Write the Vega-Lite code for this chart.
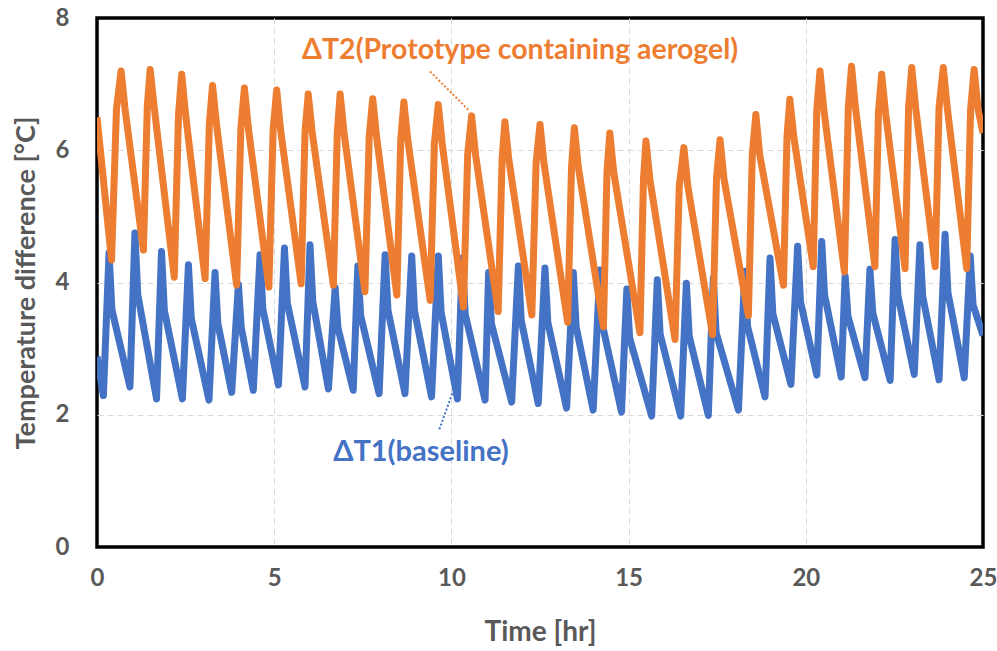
{
  "$schema": "https://vega.github.io/schema/vega-lite/v6.json",
  "width": 886,
  "height": 529,
  "autosize": "none",
  "padding": {"left": 97, "top": 18, "right": 14, "bottom": 104},
  "background": "white",
  "config": {
    "view": {"stroke": "black", "strokeWidth": 3.5},
    "font": "Lato",
    "axis": {
      "labelFont": "Lato", "titleFont": "Lato",
      "labelFontSize": 24, "labelFontWeight": "bold", "labelColor": "#595959",
      "titleFontSize": 28, "titleFontWeight": "bold", "titleColor": "#595959",
      "domain": false, "ticks": false,
      "grid": true, "gridColor": "#d9d9d9", "gridDash": [6, 4], "gridWidth": 1
    }
  },
  "datasets": {
    "baseline": [
      {"t":0,"v":2.88},{"t":0.18,"v":2.29},{"t":0.34,"v":4.45},{"t":0.42,"v":3.59},
      {"t":0.93,"v":2.42},{"t":1.07,"v":4.75},{"t":1.15,"v":3.82},
      {"t":1.68,"v":2.24},{"t":1.82,"v":4.47},{"t":1.90,"v":3.58},
      {"t":2.41,"v":2.24},{"t":2.58,"v":4.27},{"t":2.66,"v":3.46},
      {"t":3.16,"v":2.22},{"t":3.33,"v":4.15},{"t":3.41,"v":3.38},
      {"t":3.80,"v":2.34},{"t":3.99,"v":3.97},{"t":4.07,"v":3.32},
      {"t":4.41,"v":2.37},{"t":4.60,"v":4.42},{"t":4.68,"v":3.60},
      {"t":5.12,"v":2.45},{"t":5.29,"v":4.52},{"t":5.37,"v":3.69},
      {"t":5.87,"v":2.42},{"t":6.01,"v":4.57},{"t":6.09,"v":3.71},
      {"t":6.53,"v":2.39},{"t":6.72,"v":3.92},{"t":6.80,"v":3.31},
      {"t":7.23,"v":2.37},{"t":7.36,"v":4.25},{"t":7.44,"v":3.50},
      {"t":7.96,"v":2.32},{"t":8.13,"v":4.42},{"t":8.21,"v":3.58},
      {"t":8.69,"v":2.32},{"t":8.88,"v":4.40},{"t":8.96,"v":3.57},
      {"t":9.44,"v":2.27},{"t":9.63,"v":4.40},{"t":9.71,"v":3.55},
      {"t":10.17,"v":2.24},{"t":10.31,"v":4.37},{"t":10.39,"v":3.52},
      {"t":10.95,"v":2.22},{"t":11.05,"v":4.15},{"t":11.13,"v":3.38},
      {"t":11.70,"v":2.19},{"t":11.89,"v":4.25},{"t":11.97,"v":3.43},
      {"t":12.45,"v":2.17},{"t":12.64,"v":4.22},{"t":12.72,"v":3.40},
      {"t":13.25,"v":2.10},{"t":13.44,"v":4.15},{"t":13.52,"v":3.33},
      {"t":14.00,"v":2.07},{"t":14.19,"v":4.19},{"t":14.27,"v":3.34},
      {"t":14.80,"v":2.04},{"t":14.95,"v":3.90},{"t":15.03,"v":3.16},
      {"t":15.65,"v":1.98},{"t":15.81,"v":4.04},{"t":15.89,"v":3.22},
      {"t":16.47,"v":1.98},{"t":16.63,"v":3.99},{"t":16.71,"v":3.19},
      {"t":17.25,"v":1.99},{"t":17.39,"v":4.07},{"t":17.47,"v":3.24},
      {"t":18.10,"v":2.07},{"t":18.28,"v":4.17},{"t":18.36,"v":3.33},
      {"t":18.85,"v":2.27},{"t":18.99,"v":4.37},{"t":19.07,"v":3.53},
      {"t":19.58,"v":2.46},{"t":19.77,"v":4.55},{"t":19.85,"v":3.71},
      {"t":20.31,"v":2.60},{"t":20.45,"v":4.62},{"t":20.53,"v":3.81},
      {"t":21.00,"v":2.57},{"t":21.11,"v":4.10},{"t":21.19,"v":3.49},
      {"t":21.67,"v":2.56},{"t":21.81,"v":4.20},{"t":21.89,"v":3.54},
      {"t":22.38,"v":2.52},{"t":22.52,"v":4.65},{"t":22.60,"v":3.80},
      {"t":23.06,"v":2.61},{"t":23.22,"v":4.57},{"t":23.30,"v":3.79},
      {"t":23.76,"v":2.53},{"t":23.93,"v":4.73},{"t":24.01,"v":3.85},
      {"t":24.47,"v":2.56},{"t":24.64,"v":4.40},{"t":24.72,"v":3.66},
      {"t":25.0,"v":3.20}
    ],
    "prototype": [
      {"t":0,"v":6.50},
      {"t":0.41,"v":4.34},{"t":0.55,"v":6.63},{"t":0.68,"v":7.20},{"t":0.79,"v":6.63},
      {"t":1.31,"v":4.49},{"t":1.42,"v":6.67},{"t":1.50,"v":7.22},{"t":1.61,"v":6.67},
      {"t":2.18,"v":4.08},{"t":2.30,"v":6.54},{"t":2.39,"v":7.15},{"t":2.50,"v":6.54},
      {"t":3.05,"v":4.06},{"t":3.17,"v":6.40},{"t":3.26,"v":6.98},{"t":3.37,"v":6.40},
      {"t":3.94,"v":3.96},{"t":4.06,"v":6.34},{"t":4.16,"v":6.94},{"t":4.27,"v":6.34},
      {"t":4.85,"v":3.93},{"t":4.97,"v":6.31},{"t":5.07,"v":6.91},{"t":5.18,"v":6.31},
      {"t":5.76,"v":3.98},{"t":5.87,"v":6.28},{"t":5.96,"v":6.85},{"t":6.07,"v":6.28},
      {"t":6.67,"v":3.96},{"t":6.78,"v":6.27},{"t":6.86,"v":6.85},{"t":6.97,"v":6.27},
      {"t":7.56,"v":3.86},{"t":7.68,"v":6.20},{"t":7.78,"v":6.78},{"t":7.89,"v":6.20},
      {"t":8.46,"v":3.81},{"t":8.57,"v":6.15},{"t":8.66,"v":6.73},{"t":8.77,"v":6.15},
      {"t":9.40,"v":3.73},{"t":9.52,"v":6.10},{"t":9.63,"v":6.69},{"t":9.74,"v":6.10},
      {"t":10.34,"v":3.63},{"t":10.46,"v":5.94},{"t":10.57,"v":6.52},{"t":10.68,"v":5.94},
      {"t":11.32,"v":3.56},{"t":11.43,"v":5.86},{"t":11.51,"v":6.43},{"t":11.62,"v":5.86},
      {"t":12.27,"v":3.51},{"t":12.39,"v":5.81},{"t":12.50,"v":6.39},{"t":12.61,"v":5.81},
      {"t":13.28,"v":3.40},{"t":13.39,"v":5.75},{"t":13.47,"v":6.34},{"t":13.58,"v":5.75},
      {"t":14.29,"v":3.33},{"t":14.39,"v":5.67},{"t":14.47,"v":6.26},{"t":14.58,"v":5.67},
      {"t":15.32,"v":3.24},{"t":15.42,"v":5.56},{"t":15.49,"v":6.14},{"t":15.60,"v":5.56},
      {"t":16.31,"v":3.14},{"t":16.43,"v":5.46},{"t":16.56,"v":6.04},{"t":16.67,"v":5.46},
      {"t":17.37,"v":3.21},{"t":17.48,"v":5.57},{"t":17.58,"v":6.16},{"t":17.69,"v":5.57},
      {"t":18.38,"v":3.50},{"t":18.49,"v":5.93},{"t":18.59,"v":6.54},{"t":18.70,"v":5.93},
      {"t":19.37,"v":3.96},{"t":19.47,"v":6.21},{"t":19.55,"v":6.77},{"t":19.66,"v":6.21},
      {"t":20.21,"v":4.24},{"t":20.31,"v":6.61},{"t":20.40,"v":7.20},{"t":20.51,"v":6.61},
      {"t":21.09,"v":4.16},{"t":21.20,"v":6.65},{"t":21.29,"v":7.27},{"t":21.40,"v":6.65},
      {"t":21.95,"v":4.24},{"t":22.05,"v":6.57},{"t":22.14,"v":7.15},{"t":22.25,"v":6.57},
      {"t":22.80,"v":4.21},{"t":22.90,"v":6.64},{"t":22.99,"v":7.25},{"t":23.10,"v":6.64},
      {"t":23.65,"v":4.24},{"t":23.76,"v":6.65},{"t":23.88,"v":7.25},{"t":23.99,"v":6.65},
      {"t":24.54,"v":4.21},{"t":24.65,"v":6.62},{"t":24.75,"v":7.22},{"t":24.86,"v":6.62},
      {"t":25.0,"v":6.26}
    ],
    "label2": [{"t": 11.94, "v": 7.52, "label": "ΔT2(Prototype containing aerogel)"}],
    "label1": [{"t": 9.14, "v": 1.44, "label": "ΔT1(baseline)"}],
    "leader2": [{"t": 9.40, "v": 7.19, "t2": 10.48, "v2": 6.61}],
    "leader1": [{"t": 9.66, "v": 1.78, "t2": 10.03, "v2": 2.33}]
  },
  "encoding": {
    "x": {"field": "t", "type": "quantitative",
      "scale": {"domain": [0, 25], "nice": false, "zero": false},
      "axis": {"values": [0, 5, 10, 15, 20, 25], "title": "Time [hr]", "labelFlush": false, "labelPadding": 19, "titlePadding": 28,
        "gridOpacity": {"condition": {"test": "datum.value === 0 || datum.value === 25", "value": 0}, "value": 1}}},
    "y": {"field": "v", "type": "quantitative",
      "scale": {"domain": [0, 8], "nice": false},
      "axis": {"values": [0, 2, 4, 6, 8], "title": "Temperature difference [°C]", "titleFontSize": 27, "labelPadding": 28, "titlePadding": 15,
        "gridOpacity": {"condition": {"test": "datum.value === 0 || datum.value === 8", "value": 0}, "value": 1}}}
  },
  "layer": [
    {"data": {"name": "baseline"}, "mark": {"type": "line", "color": "#4472C4", "strokeWidth": 7, "strokeJoin": "round", "clip": true}},
    {"data": {"name": "prototype"}, "mark": {"type": "line", "color": "#ED7D31", "strokeWidth": 7, "strokeJoin": "round", "clip": true}},
    {"data": {"name": "leader2"}, "mark": {"type": "rule", "color": "#ED7D31", "strokeWidth": 2, "strokeDash": [2, 2]},
      "encoding": {"x2": {"field": "t2"}, "y2": {"field": "v2"}}},
    {"data": {"name": "leader1"}, "mark": {"type": "rule", "color": "#4472C4", "strokeWidth": 2, "strokeDash": [2, 2]},
      "encoding": {"x2": {"field": "t2"}, "y2": {"field": "v2"}}},
    {"data": {"name": "label2"}, "mark": {"type": "text", "color": "#ED7D31", "font": "Lato", "fontWeight": "bold", "fontSize": 28.5, "align": "center", "baseline": "middle"},
      "encoding": {"text": {"field": "label"}}},
    {"data": {"name": "label1"}, "mark": {"type": "text", "color": "#4472C4", "font": "Lato", "fontWeight": "bold", "fontSize": 29, "align": "center", "baseline": "middle"},
      "encoding": {"text": {"field": "label"}}}
  ]
}
